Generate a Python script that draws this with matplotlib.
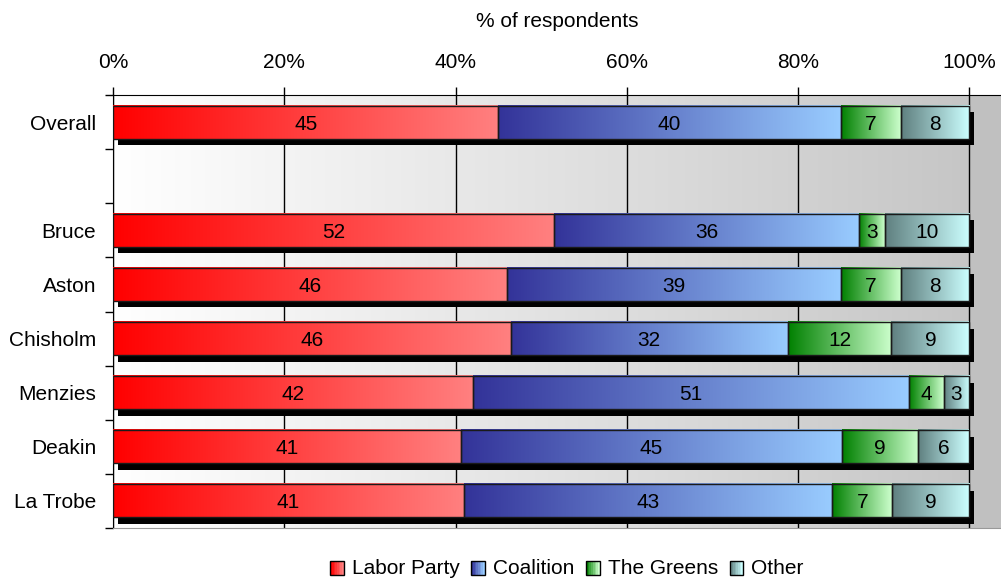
import numpy as np
import matplotlib
matplotlib.use('Agg')
import matplotlib.pyplot as plt
from matplotlib.patches import Patch, Rectangle
from matplotlib.legend_handler import HandlerBase
from matplotlib.colors import LinearSegmentedColormap, to_rgb

plt.rcParams['font.family'] = ['Liberation Sans', 'DejaVu Sans']

# data (raw % values as printed on the bars)
CATS = ['Overall', 'Bruce', 'Aston', 'Chisholm', 'Menzies', 'Deakin', 'La Trobe']
LABOR = [45, 52, 46, 46, 42, 41, 41]
COALITION = [40, 36, 39, 32, 51, 45, 43]
GREENS = [7, 3, 7, 12, 4, 9, 7]
OTHER = [8, 10, 8, 9, 3, 6, 9]
TICKS = [0, 20, 40, 60, 80, 100]
TICK_LABELS = ['0%', '20%', '40%', '60%', '80%', '100%']

SERIES = [
    ('Labor Party', LABOR, '#ff0000', '#ff8080'),
    ('Coalition', COALITION, '#333399', '#99ccff'),
    ('The Greens', GREENS, '#008000', '#ccffcc'),
    ('Other', OTHER, '#5f7f7f', '#ccffff'),
]

FS = 15
BAR_H = 0.61
XMAX = 103.7
GRAD = np.linspace(0, 1, 256).reshape(1, -1)


def grad_cmap(c0, c1):
    return LinearSegmentedColormap.from_list('g', [c0, c1])


class GradHandler(HandlerBase):
    def create_artists(self, legend, orig, xd, yd, w, h, fontsize, trans):
        c0, c1 = np.array(to_rgb(orig.c0)), np.array(to_rgb(orig.c1))
        n = 8
        arts = []
        for i in range(n):
            col = c0 + (c1 - c0) * i / (n - 1)
            arts.append(Rectangle((xd + w * i / n, yd), w / n + 0.3, h, fc=col, ec='none', transform=trans))
        arts.append(Rectangle((xd, yd), w, h, fc='none', ec='black', lw=1, transform=trans))
        return arts


fig = plt.figure(figsize=(10.01, 5.81), dpi=100)
ax = fig.add_axes([113 / 1001, 1 - 528 / 581, 1 - 113 / 1001, (528 - 95) / 581])
ax.set_facecolor('#c0c0c0')

ypos = np.array([0] + [i + 2 for i in range(len(CATS) - 1)])
totals = np.sum([LABOR, COALITION, GREENS, OTHER], axis=0)

# plot-area background gradient
ax.imshow(GRAD, cmap=grad_cmap('#ffffff', '#c6c6c6'), extent=(0, 100, 7.5, -0.5),
          aspect='auto', zorder=0.1, interpolation='bilinear')

# shadows
ax.barh(ypos + 0.12, totals / totals * 100, left=0.6, height=BAR_H, color='black', zorder=2)

left = np.zeros(len(CATS))
handles = []
for name, vals, c0, c1 in SERIES:
    w = np.array(vals) / totals * 100
    bars = ax.barh(ypos, w, left=left, height=BAR_H, facecolor='none',
                   edgecolor='#1a1a1a', lw=1, zorder=4)
    cm = grad_cmap(c0, c1)
    for b, v in zip(bars, vals):
        x0, y0, bw, bh = b.get_x(), b.get_y(), b.get_width(), b.get_height()
        ax.imshow(GRAD, cmap=cm, extent=(x0, x0 + bw, y0 + bh, y0), aspect='auto',
                  zorder=3, interpolation='bilinear')
        ax.text(x0 + bw / 2, y0 + bh / 2, str(v), ha='center', va='center_baseline',
                fontsize=FS, zorder=5)
    left += w
    h = Patch(label=name)
    h.c0, h.c1 = c0, c1
    handles.append(h)

ax.set_xlim(0, XMAX)
ax.set_ylim(7.5, -0.5)

ax.set_axisbelow(True)
ax.grid(axis='x', color='black', lw=1)

ax.xaxis.tick_top()
ax.xaxis.set_label_position('top')
ax.set_xticks(TICKS, TICK_LABELS, fontsize=FS)
ax.tick_params(axis='x', length=6, width=1, pad=10.5)
ax.set_xlabel('% of respondents', fontsize=FS, labelpad=19)

ax.set_yticks(ypos, CATS, fontsize=FS)
for lbl in ax.get_yticklabels():
    lbl.set_verticalalignment('center_baseline')
ax.set_yticks(np.arange(-0.5, 8), minor=True)
ax.tick_params(axis='y', which='major', length=0, pad=12)
ax.tick_params(axis='y', which='minor', length=6, width=1)

for s in ['top', 'left']:
    ax.spines[s].set_color('black')
ax.spines['bottom'].set_color('#999999')
ax.spines['right'].set_visible(False)

fig.legend(handles=handles, handler_map={Patch: GradHandler()}, loc='center',
           bbox_to_anchor=(567 / 1001, 1 - 569 / 581), ncol=4, frameon=False,
           fontsize=FS, handlelength=0.65, handleheight=0.65, handletextpad=0.4,
           columnspacing=0.55, borderaxespad=0)

fig.savefig('out.png', dpi=100)
